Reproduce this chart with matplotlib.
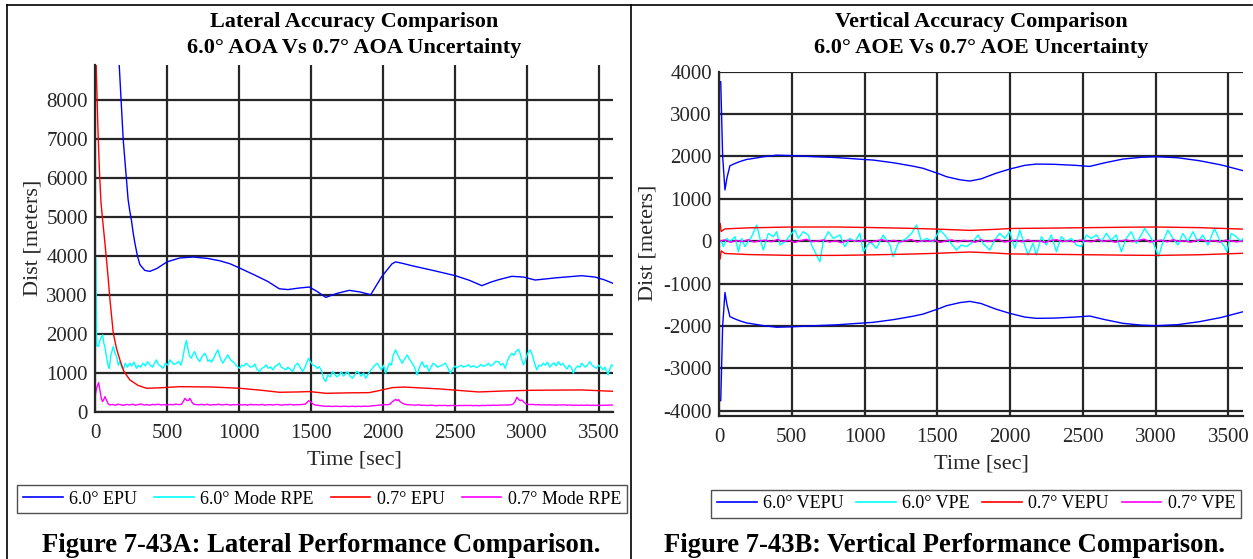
import numpy as np
import matplotlib
matplotlib.use("Agg")
import matplotlib.pyplot as plt
from matplotlib.lines import Line2D

plt.rcParams["font.family"] = ["Liberation Serif", "DejaVu Serif"]
plt.rcParams["axes.unicode_minus"] = False

# ---------------- Lateral panel data ----------------
lat_epu60_t = [0, 60, 120, 168, 196, 230, 242, 254, 265, 277, 295, 312, 346, 381, 430, 500,
               589, 681, 780, 866, 940, 1004, 1100, 1200, 1281, 1340, 1420, 1489, 1540, 1604,
               1680, 1766, 1840, 1916, 1994, 2064, 2089, 2140, 2205, 2350, 2505, 2600, 2689,
               2750, 2805, 2897, 2980, 3059, 3200, 3382, 3474, 3540, 3600]
lat_epu60_v = [40000, 20000, 12000, 8920, 6990, 5450, 5150, 4900, 4600, 4336, 4000, 3780,
               3632, 3607, 3680, 3850, 3950, 3975, 3940, 3880, 3800, 3694, 3530, 3350, 3160,
               3140, 3180, 3205, 3100, 2940, 3040, 3120, 3080, 3008, 3480, 3800, 3850, 3810,
               3750, 3630, 3496, 3380, 3240, 3330, 3393, 3480, 3460, 3385, 3440, 3496, 3462,
               3390, 3300]

lat_epu07_t = [0, 8, 20, 30, 41, 55, 69, 90, 104, 127, 150, 173, 200, 242, 300, 358, 450,
               589, 820, 1004, 1150, 1281, 1420, 1489, 1604, 1750, 1905, 1990, 2066, 2150,
               2400, 2666, 2850, 3035, 3382, 3600]
lat_epu07_v = [11000, 8900, 7300, 6250, 5400, 4850, 4336, 3500, 2880, 2020, 1620, 1337, 1050,
               823, 680, 609, 620, 650, 640, 609, 560, 506, 515, 524, 480, 490, 497, 560, 626,
               640, 590, 514, 540, 557, 566, 531]

lat_rpe60_t = [0, 6, 12, 23, 35, 53, 62, 69, 80, 92, 99, 110, 127, 140, 150, 162, 173, 185,
               196, 210, 225, 242, 255, 270, 289, 300, 315, 335, 350, 365, 381, 400, 415,
               427, 440, 455, 473, 490, 505, 520, 535, 550, 566, 580, 598, 612, 625, 635,
               647, 658, 670, 680, 693, 705, 716, 727, 740, 750, 762, 775, 785, 797, 810,
               825, 840, 854, 865, 877, 889, 900, 912, 924, 935, 946, 958, 970, 985, 1004,
               1020, 1035, 1050, 1065, 1080, 1096, 1110, 1125, 1143, 1160, 1175, 1189, 1205,
               1220, 1235, 1250, 1265, 1281, 1295, 1310, 1327, 1340, 1355, 1374, 1390, 1408,
               1425, 1443, 1460, 1475, 1485, 1495, 1512, 1530, 1545, 1558, 1575, 1590, 1604,
               1618, 1635, 1651, 1665, 1680, 1697, 1712, 1728, 1743, 1758, 1772, 1789, 1805,
               1820, 1835, 1850, 1866, 1881, 1895, 1912, 1928, 1945, 1962, 1978, 1990, 2005,
               2020, 2035, 2047, 2060, 2072, 2089, 2100, 2115, 2135, 2150, 2170, 2185, 2205,
               2220, 2239, 2255, 2274, 2290, 2305, 2320, 2335, 2350, 2366, 2380, 2400, 2420,
               2435, 2450, 2470, 2485, 2500, 2515, 2528, 2545, 2560, 2580, 2597, 2612, 2630,
               2650, 2666, 2685, 2700, 2718, 2735, 2750, 2770, 2785, 2805, 2820, 2835, 2851,
               2865, 2880, 2897, 2910, 2925, 2943, 2955, 2965, 2978, 2990, 3005, 3024, 3040,
               3055, 3070, 3085, 3100, 3116, 3130, 3145, 3160, 3174, 3190, 3205, 3220, 3235,
               3250, 3266, 3280, 3295, 3310, 3324, 3340, 3355, 3370, 3382, 3395, 3410, 3425,
               3440, 3455, 3470, 3486, 3500, 3515, 3532, 3545, 3555, 3566, 3578, 3590, 3600]
lat_rpe60_v = [4000, 3900, 1700, 1680, 1850, 1980, 1750, 1680, 1400, 1180, 1120, 1450, 1680,
               1500, 1423, 1200, 1290, 1150, 1080, 1250, 1150, 1251, 1180, 1280, 1120, 1200,
               1150, 1251, 1180, 1290, 1210, 1150, 1260, 1337, 1220, 1180, 1120, 1250, 1200,
               1337, 1280, 1220, 1251, 1300, 1200, 1423, 1700, 1834, 1600, 1423, 1380, 1480,
               1550, 1420, 1350, 1290, 1400, 1450, 1508, 1420, 1300, 1337, 1280, 1380, 1500,
               1594, 1450, 1330, 1251, 1330, 1400, 1465, 1380, 1320, 1290, 1250, 1180, 1120,
               1200, 1180, 1251, 1200, 1150, 1166, 1230, 1100, 1037, 1120, 1150, 1210, 1120,
               1160, 1080, 1160, 1200, 1251, 1150, 1120, 1080, 1150, 1100, 1037, 1180, 1251,
               1150, 1037, 1150, 1300, 1380, 1300, 1210, 1180, 1120, 1166, 1050, 850, 780,
               950, 900, 1037, 980, 900, 951, 1030, 920, 994, 1030, 920, 866, 950, 1040, 994,
               920, 1000, 866, 950, 1050, 1120, 1200, 1251, 1150, 1080, 1200, 994, 1150, 1251,
               1200, 1450, 1594, 1500, 1380, 1251, 1350, 1465, 1350, 1251, 1150, 951, 1150,
               1290, 1150, 1200, 1037, 1150, 1250, 1210, 1150, 1180, 1220, 1251, 1150, 994,
               1100, 1180, 1130, 1166, 1200, 1150, 1180, 1210, 1150, 1190, 1140, 1166, 1220,
               1170, 1200, 1251, 1180, 1230, 1300, 1290, 1200, 1250, 1120, 1300, 1420, 1508,
               1450, 1550, 1610, 1500, 1350, 1210, 1300, 1500, 1594, 1450, 1250, 1080, 1200,
               1180, 1251, 1200, 1280, 1150, 1210, 1260, 1180, 1290, 1200, 1250, 1166, 1100,
               1200, 1150, 994, 1120, 1180, 1150, 1251, 1200, 1150, 1220, 1290, 1200, 1150,
               1120, 1200, 1150, 1080, 1150, 1050, 951, 1100, 1210, 1180]

lat_rpe07_t = [0, 10, 25, 35, 45, 53, 62, 69, 80, 92, 104, 120, 140, 160, 180, 200, 220, 240,
               260, 280, 300, 320, 340, 360, 380, 400, 420, 440, 460, 480, 500, 520, 540,
               560, 580, 600, 615, 625, 640, 650, 660, 672, 685, 700, 720, 740, 760, 780,
               800, 820, 840, 860, 880, 900, 920, 940, 960, 980, 1000, 1020, 1040, 1060,
               1080, 1100, 1120, 1140, 1160, 1180, 1200, 1220, 1240, 1260, 1280, 1300, 1320,
               1340, 1360, 1380, 1400, 1420, 1440, 1460, 1475, 1485, 1495, 1505, 1515, 1530,
               1550, 1570, 1590, 1610, 1630, 1650, 1670, 1690, 1710, 1730, 1750, 1770, 1790,
               1810, 1830, 1850, 1870, 1890, 1910, 1930, 1950, 1970, 1990, 2010, 2030, 2050,
               2065, 2080, 2090, 2100, 2110, 2120, 2135, 2150, 2170, 2190, 2210, 2230, 2250,
               2270, 2290, 2310, 2330, 2350, 2370, 2390, 2410, 2430, 2450, 2470, 2490, 2510,
               2530, 2550, 2570, 2590, 2610, 2630, 2650, 2670, 2690, 2710, 2730, 2750, 2770,
               2790, 2810, 2830, 2850, 2870, 2890, 2905, 2918, 2932, 2945, 2955, 2965, 2978,
               2990, 3005, 3020, 3040, 3060, 3080, 3100, 3120, 3140, 3160, 3180, 3200, 3220,
               3240, 3260, 3280, 3300, 3320, 3340, 3360, 3380, 3400, 3420, 3440, 3460, 3480,
               3500, 3520, 3540, 3560, 3580, 3600]
lat_rpe07_v = [394, 600, 754, 550, 330, 266, 330, 394, 300, 210, 180, 195, 175, 200, 185, 170,
               195, 180, 200, 175, 190, 205, 180, 190, 175, 195, 185, 200, 180, 190, 175, 195,
               185, 200, 190, 195, 280, 351, 290, 300, 351, 260, 200, 190, 185, 195, 180, 200,
               175, 190, 185, 200, 180, 190, 195, 175, 190, 185, 195, 180, 190, 175, 195, 185,
               190, 180, 195, 175, 185, 190, 180, 195, 185, 175, 190, 185, 195, 180, 190, 185,
               195, 200, 250, 290, 270, 240, 200, 180, 170, 160, 150, 145, 150, 140, 150, 145,
               140, 150, 145, 140, 150, 140, 148, 140, 150, 145, 150, 160, 165, 175, 180, 190,
               185, 200, 260, 300, 326, 290, 320, 266, 230, 200, 190, 185, 180, 175, 185, 170,
               175, 165, 175, 170, 160, 170, 165, 170, 160, 165, 170, 160, 168, 165, 170, 165,
               170, 162, 168, 160, 170, 165, 172, 168, 175, 170, 178, 175, 180, 178, 185, 200,
               260, 377, 320, 290, 310, 266, 220, 200, 190, 195, 185, 190, 180, 185, 178, 185,
               180, 175, 182, 178, 185, 175, 180, 172, 178, 170, 176, 172, 178, 170, 175, 168,
               174, 170, 176, 172, 180, 178]

# ---------------- Vertical panel data ----------------
vert_vepu60_t = [0, 12, 25, 41, 55, 75, 100, 121, 144, 190, 213, 300, 396, 500, 648, 800, 990,
                 1059, 1200, 1334, 1402, 1517, 1563, 1654, 1723, 1800, 1900, 1997, 2100, 2180,
                 2300, 2450, 2546, 2650, 2775, 2900, 3004, 3150, 3301, 3450, 3600]
vert_vepu60_v = [3765, 3765, 2000, 1210, 1500, 1780, 1820, 1850, 1880, 1930, 1940, 1990, 2030,
                 2020, 1995, 1975, 1930, 1915, 1850, 1770, 1720, 1584, 1522, 1450, 1420, 1470,
                 1600, 1702, 1790, 1820, 1815, 1790, 1765, 1850, 1938, 1980, 1993, 1970, 1899,
                 1800, 1665]

vert_vepu07_t = [0, 8, 15, 40, 200, 500, 800, 1000, 1300, 1500, 1723, 1900, 2000, 2300, 2500,
                 2800, 3000, 3300, 3600]
vert_vepu07_v = [420, 420, 230, 290, 315, 335, 335, 325, 305, 285, 255, 280, 300, 310, 318,
                 330, 335, 320, 285]

vert_vpe60_t = [0, 18, 30, 53, 76, 110, 133, 156, 178, 201, 224, 259, 281, 304, 339, 373, 396,
                419, 453, 499, 522, 545, 579, 613, 636, 670, 693, 716, 751, 785, 831, 865, 899,
                934, 968, 991, 1037, 1082, 1128, 1174, 1197, 1231, 1288, 1323, 1357, 1391,
                1426, 1471, 1517, 1551, 1585, 1631, 1665, 1700, 1746, 1780, 1814, 1860, 1894,
                1929, 1963, 1997, 2032, 2066, 2100, 2123, 2157, 2180, 2215, 2249, 2283, 2318,
                2352, 2386, 2421, 2455, 2489, 2524, 2558, 2592, 2627, 2661, 2695, 2729, 2764,
                2798, 2832, 2867, 2901, 2924, 2947, 2970, 3004, 3020, 3050, 3084, 3118, 3153,
                3187, 3221, 3256, 3290, 3324, 3359, 3404, 3439, 3473, 3489, 3519, 3553, 3587,
                3600]
vert_vpe60_v = [0, -11, -129, 67, -11, 107, -247, 67, -129, -11, 107, 383, 67, -208, 185, 107,
                225, -90, -11, 185, 264, 67, 225, 146, -90, -326, -483, -11, 225, 67, 146,
                -129, 67, -11, 185, -247, -11, -168, 146, -90, -365, -50, 67, 185, 383, -11,
                67, -11, 264, 146, -11, -208, -90, -129, -11, 146, -50, -208, 28, 185, 67,
                225, -168, 264, -90, -326, -50, -326, 107, -90, 146, -247, 107, -11, 67, -90,
                -129, 146, 67, 146, -11, 185, 28, 146, -247, 67, 225, -50, 146, 303, 185, 67,
                -208, -365, -11, 264, 67, -90, 185, -11, 225, -11, 146, -90, 303, 28, -129,
                -247, 185, 107, -11, 67]

vert_vpe07_v = [0, 30, -25, 15, -10, 35, -20, 10, 25, -15, 40, -5, 20, -30, 15, 45, -10, 5,
                30, -20, 10, -35, 20, 15, -5, 30, -25, 10, 35, -10, 20, -15, 5, 40, -20, 15,
                -5, 25, -30, 10, 30, -15, 20, 5, -25, 35, -10, 15, 45, -20, 5, 25, -15, 30,
                -5, 10, -30, 20, 35, -10, 15, -20, 25, 5, -15, 40, -5, 20, -25, 10, 30, -10,
                15, 50, -20, 5, 25, -15, 35, -5, 10, -25, 20, 30, -10, 15, -20, 25, 5, -15, 10]
vert_vpe07_t = np.linspace(0, 3600, len(vert_vpe07_v))

x_ticks = [0, 500, 1000, 1500, 2000, 2500, 3000, 3500]
lat_yticks = [0, 1000, 2000, 3000, 4000, 5000, 6000, 7000, 8000]
vert_yticks = [-4000, -3000, -2000, -1000, 0, 1000, 2000, 3000, 4000]

BLUE, CYAN, RED, MAGENTA = "#0000ff", "#00ffff", "#ff0000", "#ff00ff"
GRID = "#262626"

W, H = 1253, 559
fig = plt.figure(figsize=(W / 100, H / 100), dpi=100)


def px_axes(left, top, right, bottom):
    return fig.add_axes([left / W, 1 - bottom / H, (right - left) / W, (bottom - top) / H])


def style(ax, yticks, ylim):
    ax.set_xlim(0, 3600)
    ax.set_ylim(*ylim)
    ax.set_xticks(x_ticks)
    ax.set_yticks(yticks)
    ax.grid(True, color=GRID, linewidth=1.6)
    ax.set_axisbelow(True)
    for s in ("top", "right"):
        ax.spines[s].set_visible(False)
    for s in ("left", "bottom"):
        ax.spines[s].set_linewidth(1.6)
        ax.spines[s].set_color(GRID)
    ax.tick_params(axis="both", length=0, labelsize=15, colors="#262626")
    ax.tick_params(axis="x", pad=9)
    ax.tick_params(axis="y", pad=5)


lw = 1.0
ax1 = px_axes(95, 65, 613, 412)
style(ax1, lat_yticks, (0, 8900))
ax1.plot(lat_epu60_t, lat_epu60_v, color=BLUE, lw=lw)
ax1.plot(lat_rpe60_t, lat_rpe60_v, color=CYAN, lw=lw)
ax1.plot(lat_epu07_t, lat_epu07_v, color=RED, lw=lw)
ax1.plot(lat_rpe07_t, lat_rpe07_v, color=MAGENTA, lw=lw)

ax2 = px_axes(719, 71.7, 1243, 416)
style(ax2, vert_yticks, (-4125, 4000))
ax2.plot(vert_vepu60_t, vert_vepu60_v, color=BLUE, lw=lw)
ax2.plot(vert_vepu60_t, -np.asarray(vert_vepu60_v), color=BLUE, lw=lw)
ax2.plot(vert_vpe60_t, vert_vpe60_v, color=CYAN, lw=lw)
ax2.plot(vert_vepu07_t, vert_vepu07_v, color=RED, lw=lw)
ax2.plot(vert_vepu07_t, -np.asarray(vert_vepu07_v), color=RED, lw=lw)
ax2.plot(vert_vpe07_t, vert_vpe07_v, color=MAGENTA, lw=lw)


def ftext(x, y, s, **kw):
    fig.text(x / W, 1 - y / H, s, **kw)


title_kw = dict(ha="center", va="center", fontsize=16, fontweight="bold")
ftext(354, 22, "Lateral Accuracy Comparison", **title_kw)
ftext(354, 48, "6.0° AOA Vs 0.7° AOA Uncertainty", **title_kw)
ftext(981, 22, "Vertical Accuracy Comparison", **title_kw)
ftext(981, 48, "6.0° AOE Vs 0.7° AOE Uncertainty", **title_kw)

lab_kw = dict(ha="center", va="center", fontsize=16, color="#262626")
ftext(354, 460, "Time [sec]", **lab_kw)
ftext(981, 464, "Time [sec]", **lab_kw)
ftext(33, 238, "Dist [meters]", rotation=90, **lab_kw)
ftext(648, 243, "Dist [meters]", rotation=90, **lab_kw)

cap_kw = dict(ha="center", va="center", fontsize=19.2, fontweight="bold")
ftext(321, 546, "Figure 7-43A: Lateral Performance Comparison.", **cap_kw)
ftext(944, 546, "Figure 7-43B: Vertical Performance Comparison.", **cap_kw)


def legend(labels, cx, cy, colsp):
    handles = [Line2D([], [], color=c, lw=1.2) for c in (BLUE, CYAN, RED, MAGENTA)]
    leg = fig.legend(handles, labels, loc="center", bbox_to_anchor=(cx / W, 1 - cy / H),
                     ncol=4, fontsize=13, frameon=True, fancybox=False, handlelength=2.2,
                     handletextpad=0.35, columnspacing=colsp, borderpad=0.3,
                     borderaxespad=0)
    fr = leg.get_frame()
    fr.set_edgecolor("#262626")
    fr.set_linewidth(1.0)
    return leg


legend(["6.0° EPU", "6.0° Mode RPE", "0.7° EPU", "0.7° Mode RPE"], 322, 499, 0.95)
legend(["6.0° VEPU", "6.0° VPE", "0.7° VEPU", "0.7° VPE"], 976, 504, 0.7)

# panel borders
border = dict(color="black", lw=1.2, transform=fig.transFigure)
fig.add_artist(Line2D([7 / W, 1252 / W], [1 - 5 / H, 1 - 5 / H], **border))
fig.add_artist(Line2D([7 / W, 7 / W], [1 - 5 / H, 0], **border))
fig.add_artist(Line2D([631 / W, 631 / W], [1 - 5 / H, 0], **border))

fig.savefig("out.png", dpi=100)
